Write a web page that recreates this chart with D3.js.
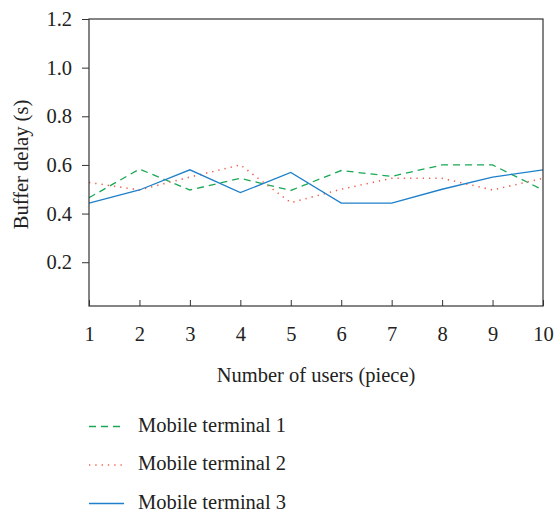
<!DOCTYPE html>
<html><head><meta charset="utf-8">
<script src="https://cdn.jsdelivr.net/npm/d3@7"></script>
<style>body{margin:0;background:#fff}svg{display:block}text{font-family:"Liberation Serif","Times New Roman",serif;fill:#222}</style>
</head><body>
<svg id="c" width="555" height="516"></svg>
<script>
const users = [1,2,3,4,5,6,7,8,9,10];
const terminal1 = [0.465,0.583,0.497,0.545,0.495,0.577,0.553,0.600,0.600,0.497];
const terminal2 = [0.528,0.497,0.550,0.600,0.445,0.500,0.545,0.545,0.497,0.545];
const terminal3 = [0.443,0.497,0.580,0.486,0.569,0.443,0.443,0.500,0.550,0.580];
const seriesNames = ["Mobile terminal 1","Mobile terminal 2","Mobile terminal 3"];
const yTicks = [0.2,0.4,0.6,0.8,1.0,1.2];

const FS = 20.5;
const svg = d3.select("#c");
const L=89,R=543,T=19,B=306;
const x = d3.scaleLinear().domain([1,10]).range([L,R]);
const y = d3.scaleLinear().domain([0.02,1.2]).range([B,T]);

const series = [
  {name:seriesNames[0], vals:terminal1, color:"#19a853", dash:"7,5", w:1.3},
  {name:seriesNames[1], vals:terminal2, color:"#f0604c", dash:"1.3,5", w:1.6},
  {name:seriesNames[2], vals:terminal3, color:"#1f80c9", dash:null, w:1.3}
];

const line = d3.line().x((d,i)=>x(users[i])).y(d=>y(d));
series.forEach(s=>{
  svg.append("path").attr("d",line(s.vals)).attr("fill","none")
    .attr("stroke",s.color).attr("stroke-width",s.w)
    .attr("stroke-dasharray",s.dash);
});

// frame
svg.append("rect").attr("x",L).attr("y",T).attr("width",R-L).attr("height",B-T)
  .attr("fill","none").attr("stroke","#333").attr("stroke-width",1.2);

// y axis
const ya = svg.append("g").attr("transform",`translate(${L},0)`)
  .call(d3.axisLeft(y).tickValues(yTicks).tickSize(7).tickPadding(10).tickFormat(d3.format(".1f")));
ya.attr("font-family",null).attr("font-size",null);
ya.select(".domain").remove();
ya.selectAll("line").attr("stroke","#333");
ya.selectAll("text").attr("font-size",FS).attr("fill","#222");

// x axis (ticks inside)
const xa = svg.append("g").attr("transform",`translate(0,${B})`)
  .call(d3.axisBottom(x).tickValues(users).tickSize(-6).tickFormat(d3.format("d")));
xa.attr("font-family",null).attr("font-size",null);
xa.select(".domain").remove();
xa.selectAll("line").attr("stroke","#333");
xa.selectAll("text").attr("font-size",FS).attr("fill","#222").attr("y",35).attr("dy",0);

svg.append("text").attr("x",(L+R)/2).attr("y",382).attr("text-anchor","middle")
  .attr("font-size",FS).text("Number of users (piece)");
svg.append("text").attr("transform",`translate(28,${(T+B)/2 + 2}) rotate(-90)`)
  .attr("text-anchor","middle").attr("font-size",FS).text("Buffer delay (s)");

// legend
const ly=[426.5,465,503.5];
series.forEach((s,i)=>{
  svg.append("line").attr("x1",89).attr("x2",124).attr("y1",ly[i]).attr("y2",ly[i])
    .attr("stroke",s.color).attr("stroke-width",s.w).attr("stroke-dasharray",s.dash);
  svg.append("text").attr("x",138).attr("y",ly[i]+5).attr("font-size",FS).text(s.name);
});
</script>
</body></html>
